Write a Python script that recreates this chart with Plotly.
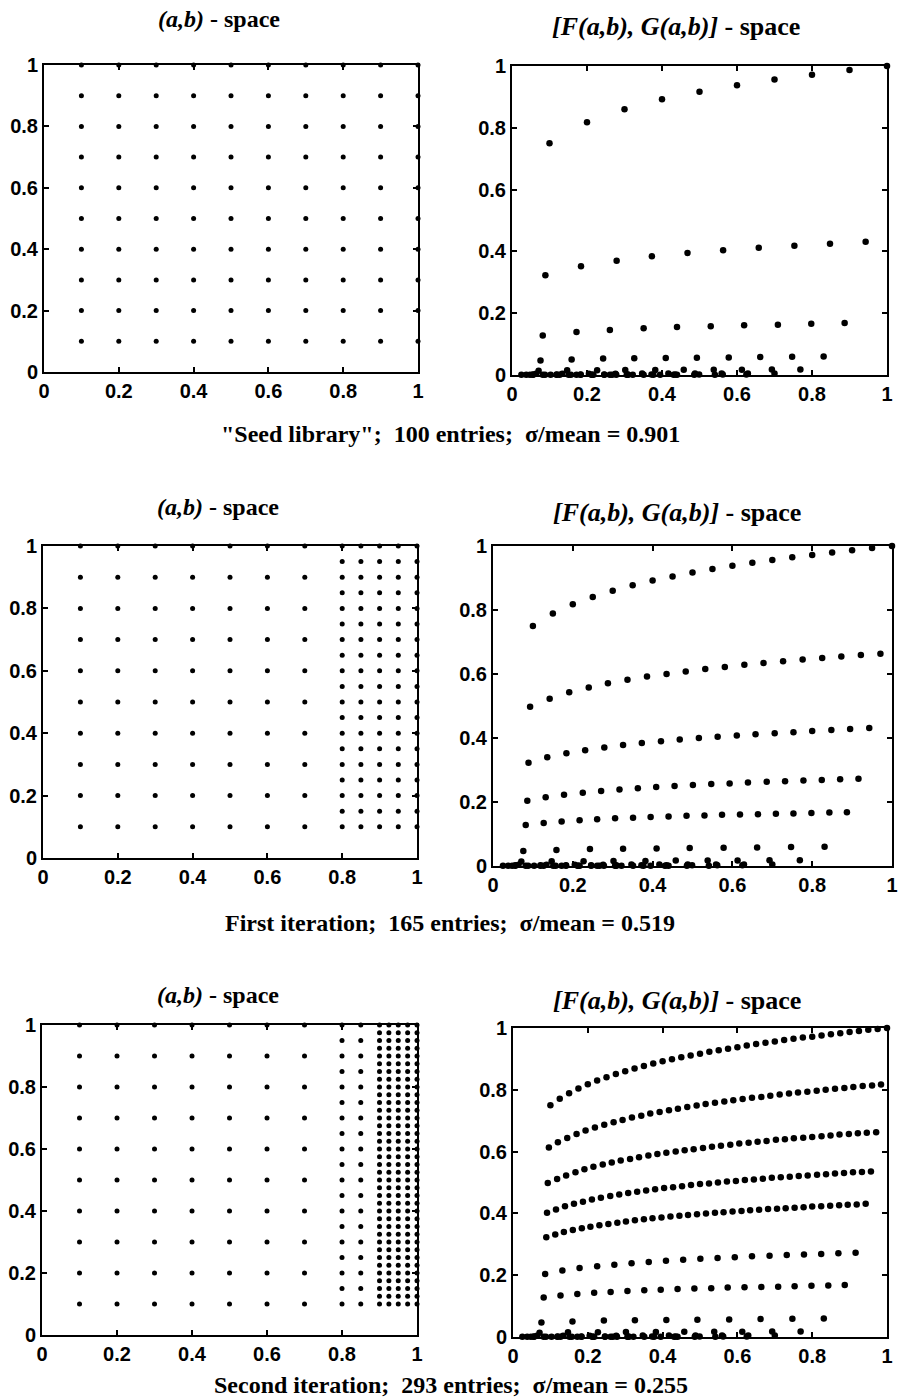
import plotly.graph_objects as go

# ---------------- (a,b)-space grid levels ----------------
seed_a = [0.1, 0.2, 0.3, 0.4, 0.5, 0.6, 0.7, 0.8, 0.9, 1.0]
seed_b = [0.1, 0.2, 0.3, 0.4, 0.5, 0.6, 0.7, 0.8, 0.9, 1.0]
coarse_a = [0.1, 0.2, 0.3, 0.4, 0.5, 0.6, 0.7]
fine_a = [0.8, 0.85, 0.9, 0.95, 1.0]
fine_b = [0.1, 0.15, 0.2, 0.25, 0.3, 0.35, 0.4, 0.45, 0.5, 0.55, 0.6, 0.65, 0.7,
          0.75, 0.8, 0.85, 0.9, 0.95, 1.0]
mid_a = [0.8, 0.85]
finest_a = [0.9, 0.925, 0.95, 0.975, 1.0]
finest_b = [0.1, 0.125, 0.15, 0.175, 0.2, 0.225, 0.25, 0.275, 0.3, 0.325, 0.35, 0.375,
            0.4, 0.425, 0.45, 0.475, 0.5, 0.525, 0.55, 0.575, 0.6, 0.625, 0.65, 0.675,
            0.7, 0.725, 0.75, 0.775, 0.8, 0.825, 0.85, 0.875, 0.9, 0.925, 0.95, 0.975, 1.0]

# ---------------- [F,G]-space curves (one per a level) ----------------
fg_x_100 = [0.100, 0.125, 0.150, 0.175, 0.200, 0.225, 0.250, 0.275, 0.300, 0.325, 0.350, 0.375,
            0.400, 0.425, 0.450, 0.475, 0.500, 0.525, 0.550, 0.575, 0.600, 0.625, 0.650, 0.675,
            0.700, 0.725, 0.750, 0.775, 0.800, 0.825, 0.850, 0.875, 0.900, 0.925, 0.950, 0.975, 1.000]
fg_y_100 = [0.750, 0.771, 0.789, 0.804, 0.818, 0.830, 0.841, 0.851, 0.860, 0.869, 0.877, 0.885,
            0.892, 0.899, 0.905, 0.911, 0.917, 0.923, 0.928, 0.933, 0.938, 0.943, 0.948, 0.952,
            0.956, 0.961, 0.965, 0.969, 0.972, 0.976, 0.980, 0.983, 0.987, 0.990, 0.994, 0.997, 1.000]

fg_x_0975 = [0.096, 0.120, 0.145, 0.170, 0.194, 0.219, 0.244, 0.269, 0.293, 0.318, 0.343, 0.367,
             0.392, 0.417, 0.441, 0.466, 0.491, 0.515, 0.540, 0.565, 0.589, 0.614, 0.639, 0.664,
             0.688, 0.713, 0.738, 0.762, 0.787, 0.812, 0.836, 0.861, 0.886, 0.910, 0.935, 0.960, 0.984]
fg_y_0975 = [0.613, 0.630, 0.644, 0.657, 0.668, 0.678, 0.687, 0.695, 0.702, 0.710, 0.716, 0.723,
             0.728, 0.734, 0.739, 0.744, 0.749, 0.754, 0.758, 0.762, 0.766, 0.770, 0.774, 0.777,
             0.781, 0.785, 0.788, 0.791, 0.794, 0.797, 0.800, 0.803, 0.806, 0.809, 0.812, 0.814, 0.817]

fg_x_0950 = [0.093, 0.118, 0.142, 0.167, 0.191, 0.215, 0.240, 0.264, 0.288, 0.313, 0.337, 0.362,
             0.386, 0.410, 0.435, 0.459, 0.483, 0.508, 0.532, 0.556, 0.581, 0.605, 0.630, 0.654,
             0.678, 0.703, 0.727, 0.751, 0.776, 0.800, 0.825, 0.849, 0.873, 0.898, 0.922, 0.946, 0.971]
fg_y_0950 = [0.498, 0.511, 0.523, 0.533, 0.543, 0.551, 0.558, 0.565, 0.571, 0.576, 0.582, 0.587,
             0.592, 0.596, 0.600, 0.604, 0.608, 0.612, 0.616, 0.619, 0.622, 0.626, 0.629, 0.632,
             0.634, 0.638, 0.640, 0.643, 0.645, 0.647, 0.650, 0.652, 0.655, 0.657, 0.659, 0.661, 0.663]

fg_x_0925 = [0.091, 0.115, 0.139, 0.163, 0.187, 0.211, 0.235, 0.260, 0.284, 0.308, 0.332, 0.356,
             0.380, 0.404, 0.428, 0.452, 0.476, 0.500, 0.524, 0.548, 0.572, 0.596, 0.620, 0.644,
             0.668, 0.692, 0.716, 0.740, 0.764, 0.788, 0.813, 0.837, 0.861, 0.885, 0.909, 0.933, 0.957]
fg_y_0925 = [0.402, 0.413, 0.423, 0.431, 0.438, 0.445, 0.451, 0.456, 0.461, 0.466, 0.470, 0.474,
             0.478, 0.482, 0.485, 0.488, 0.492, 0.495, 0.497, 0.500, 0.503, 0.505, 0.508, 0.510,
             0.512, 0.515, 0.517, 0.519, 0.521, 0.523, 0.525, 0.527, 0.529, 0.531, 0.533, 0.534, 0.536]

fg_x_0900 = [0.089, 0.113, 0.136, 0.160, 0.184, 0.207, 0.231, 0.255, 0.279, 0.302, 0.326, 0.350,
             0.373, 0.397, 0.421, 0.445, 0.468, 0.492, 0.516, 0.540, 0.563, 0.587, 0.611, 0.634,
             0.658, 0.682, 0.706, 0.729, 0.753, 0.777, 0.800, 0.824, 0.848, 0.872, 0.895, 0.919, 0.943]
fg_y_0900 = [0.323, 0.332, 0.340, 0.346, 0.352, 0.357, 0.362, 0.366, 0.370, 0.374, 0.378, 0.381,
             0.384, 0.387, 0.390, 0.392, 0.395, 0.397, 0.400, 0.402, 0.404, 0.406, 0.408, 0.410,
             0.412, 0.414, 0.415, 0.417, 0.418, 0.420, 0.422, 0.423, 0.425, 0.426, 0.428, 0.429, 0.431]

fg_x_0850 = [0.086, 0.132, 0.178, 0.225, 0.271, 0.317, 0.363, 0.409, 0.455, 0.501, 0.547, 0.593,
             0.639, 0.686, 0.732, 0.778, 0.824, 0.870, 0.916]
fg_y_0850 = [0.204, 0.215, 0.223, 0.229, 0.234, 0.239, 0.243, 0.247, 0.250, 0.253, 0.256, 0.258,
             0.261, 0.263, 0.265, 0.267, 0.269, 0.271, 0.273]

fg_x_0800 = [0.082, 0.127, 0.172, 0.217, 0.261, 0.306, 0.351, 0.395, 0.440, 0.485, 0.530, 0.574,
             0.619, 0.664, 0.709, 0.753, 0.798, 0.843, 0.887]
fg_y_0800 = [0.128, 0.134, 0.139, 0.143, 0.146, 0.149, 0.151, 0.153, 0.155, 0.157, 0.158, 0.160,
             0.161, 0.162, 0.163, 0.164, 0.166, 0.167, 0.168]

fg_x_0700 = [0.076, 0.159, 0.243, 0.326, 0.410, 0.493, 0.578, 0.662, 0.747, 0.831]
fg_y_0700 = [0.047, 0.050, 0.053, 0.054, 0.055, 0.056, 0.057, 0.058, 0.059, 0.060]
fg_x_0600 = [0.071, 0.147, 0.227, 0.302, 0.382, 0.458, 0.538, 0.613, 0.693, 0.769]
fg_y_0600 = [0.014, 0.015, 0.015, 0.016, 0.016, 0.017, 0.017, 0.017, 0.018, 0.018]
fg_x_0500 = [0.064, 0.134, 0.205, 0.276, 0.347, 0.417, 0.488, 0.559, 0.629, 0.700]
fg_y_0500 = [0.004, 0.004, 0.004, 0.004, 0.005, 0.005, 0.005, 0.005, 0.005, 0.005]
fg_x_0400 = [0.056, 0.119, 0.183, 0.246, 0.309, 0.372, 0.435, 0.499, 0.562, 0.625]
fg_y_0400 = [0.002, 0.002, 0.002, 0.002, 0.002, 0.002, 0.002, 0.002, 0.002, 0.002]
fg_x_0300 = [0.048, 0.103, 0.157, 0.212, 0.267, 0.322, 0.377, 0.431, 0.486, 0.541]
fg_y_0300 = [0.001, 0.001, 0.001, 0.001, 0.001, 0.001, 0.001, 0.001, 0.001, 0.001]
fg_x_0200 = [0.038, 0.082, 0.127, 0.172, 0.217, 0.261, 0.306, 0.351, 0.395, 0.440]
fg_y_0200 = [0.001, 0.001, 0.001, 0.001, 0.001, 0.001, 0.001, 0.001, 0.001, 0.001]
fg_x_0100 = [0.025, 0.056, 0.088, 0.119, 0.151, 0.183, 0.214, 0.246, 0.278, 0.309]
fg_y_0100 = [0.001, 0.001, 0.001, 0.001, 0.001, 0.001, 0.001, 0.001, 0.001, 0.001]

tick_vals = [0, 0.2, 0.4, 0.6, 0.8, 1]
tick_text = ["0", "0.2", "0.4", "0.6", "0.8", "1"]

left_titles = ["<i>(a,b)</i> - space"] * 3
right_titles = ["<i>[F(a,b), G(a,b)]</i> - space"] * 3
captions = ['"Seed library";\u00a0\u00a0100 entries;\u00a0\u00a0σ/mean = 0.901',
            'First iteration;\u00a0\u00a0165 entries;\u00a0\u00a0σ/mean = 0.519',
            'Second iteration;\u00a0\u00a0293 entries;\u00a0\u00a0σ/mean = 0.255']

# ---------------- layout geometry (pixels) ----------------
W, H = 899, 1399
boxes = [  # (x0, x1, y0, y1) in px, left/right per row
    ((44, 418, 65, 372), (512, 887, 66, 375)),
    ((43, 417, 546, 858), (493, 892, 546, 866)),
    ((42, 417, 1025, 1335), (513, 887, 1028, 1337)),
]
title_pos = [((219, 19), (676, 26)), ((218, 507), (677, 513)), ((218, 995), (677, 1000))]
caption_pos = [(450, 434), (450, 923), (451, 1385)]


def grid(a_vals, b_vals):
    xs, ys = [], []
    for a in a_vals:
        for b in b_vals:
            xs.append(a)
            ys.append(b)
    return xs, ys


# left-panel point sets
ab_sets = [
    [grid(seed_a, seed_b)],
    [grid(coarse_a, seed_b), grid(fine_a, fine_b)],
    [grid(coarse_a, seed_b), grid(mid_a, fine_b), grid(finest_a, finest_b)],
]

low_curves = [(fg_x_0700, fg_y_0700), (fg_x_0600, fg_y_0600), (fg_x_0500, fg_y_0500),
              (fg_x_0400, fg_y_0400), (fg_x_0300, fg_y_0300), (fg_x_0200, fg_y_0200),
              (fg_x_0100, fg_y_0100)]

fg_sets = [
    [(fg_x_100[::4], fg_y_100[::4]), (fg_x_0900[::4], fg_y_0900[::4]),
     (fg_x_0800[::2], fg_y_0800[::2])] + low_curves,
    [(fg_x_100[::2], fg_y_100[::2]), (fg_x_0950[::2], fg_y_0950[::2]),
     (fg_x_0900[::2], fg_y_0900[::2]), (fg_x_0850, fg_y_0850), (fg_x_0800, fg_y_0800)] + low_curves,
    [(fg_x_100, fg_y_100), (fg_x_0975, fg_y_0975), (fg_x_0950, fg_y_0950), (fg_x_0925, fg_y_0925),
     (fg_x_0900, fg_y_0900), (fg_x_0850, fg_y_0850), (fg_x_0800, fg_y_0800)] + low_curves,
]

fig = go.Figure()
layout_axes = {}
annotations = []
serif = "Liberation Serif, Times New Roman, serif"
sans = "Liberation Sans, Arial, sans-serif"

ax_n = 0
for row in range(3):
    for col in range(2):
        ax_n += 1
        x0, x1, y0, y1 = boxes[row][col]
        xname = "xaxis" if ax_n == 1 else f"xaxis{ax_n}"
        yname = "yaxis" if ax_n == 1 else f"yaxis{ax_n}"
        xref = "x" if ax_n == 1 else f"x{ax_n}"
        yref = "y" if ax_n == 1 else f"y{ax_n}"
        common = dict(range=[0, 1], tickvals=tick_vals, ticktext=tick_text,
                      showgrid=False, zeroline=False, showline=True, linecolor="black",
                      linewidth=2, mirror="ticks", ticks="inside", ticklen=5, tickwidth=1.5,
                      tickcolor="black", automargin=False, ticklabeloverflow="allow",
                      tickfont=dict(family=sans, size=20, color="black", weight="bold"))
        layout_axes[xname] = dict(domain=[x0 / W, x1 / W], anchor=yref, **common)
        layout_axes[yname] = dict(domain=[1 - y1 / H, 1 - y0 / H], anchor=xref, **common)

        if col == 0:
            for xs, ys in ab_sets[row]:
                fig.add_trace(go.Scatter(x=xs, y=ys, mode="markers", xaxis=xref, yaxis=yref,
                                         marker=dict(size=5, color="black"),
                                         cliponaxis=False, showlegend=False, hoverinfo="skip"))
        else:
            for xs, ys in fg_sets[row]:
                fig.add_trace(go.Scatter(x=xs, y=ys, mode="markers", xaxis=xref, yaxis=yref,
                                         marker=dict(size=6.5, color="black"),
                                         cliponaxis=False, showlegend=False, hoverinfo="skip"))

        tx, ty = title_pos[row][col]
        ttl = left_titles[row] if col == 0 else right_titles[row]
        annotations.append(dict(text=ttl, x=tx / W, y=1 - ty / H, xref="paper", yref="paper",
                                xanchor="center", yanchor="middle", showarrow=False,
                                font=dict(family=serif, size=24 if col == 0 else 26,
                                          color="black", weight="bold")))
    cx, cy = caption_pos[row]
    annotations.append(dict(text=captions[row], x=cx / W, y=1 - cy / H, xref="paper", yref="paper",
                            xanchor="center", yanchor="middle", showarrow=False,
                            font=dict(family=serif, size=24, color="black", weight="bold")))

fig.update_layout(width=W, height=H, margin=dict(l=0, r=0, t=0, b=0, autoexpand=False),
                  paper_bgcolor="white", plot_bgcolor="white",
                  annotations=annotations, **layout_axes)

fig.write_html("out.html")
